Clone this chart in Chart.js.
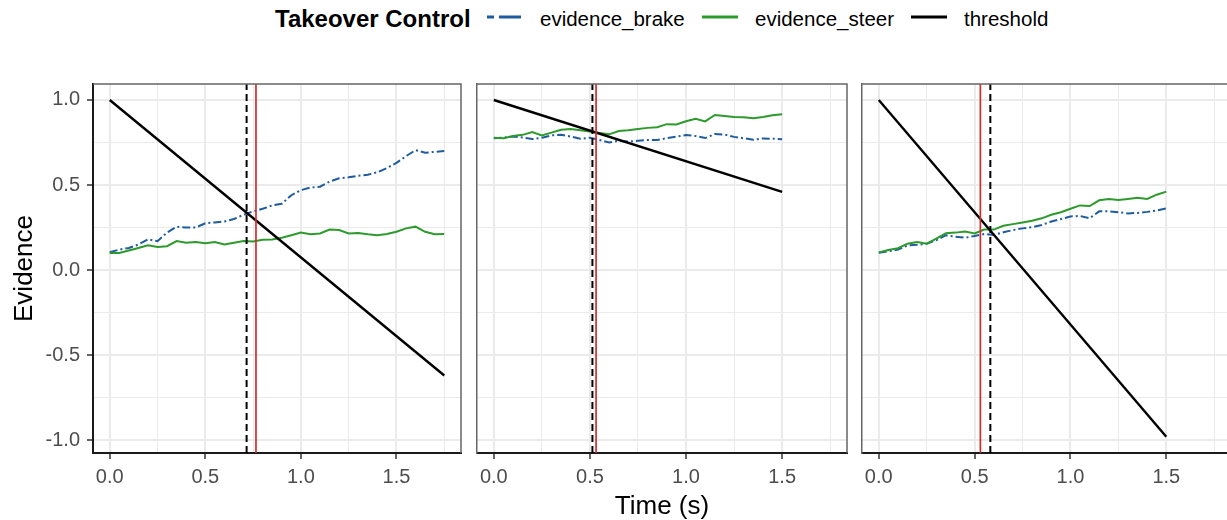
<!DOCTYPE html>
<html>
<head>
<meta charset="utf-8">
<script src="https://cdn.jsdelivr.net/npm/chart.js@4.4.1/dist/chart.umd.min.js"></script>
<style>
html,body{margin:0;padding:0;background:#fff;width:1227px;height:520px;overflow:hidden;font-family:'Liberation Sans',Arial,sans-serif;}
.cv{position:absolute;left:0;top:0;}
#legend{position:absolute;left:0;top:0;width:1227px;height:40px;}
.lt{position:absolute;white-space:nowrap;color:#000;line-height:30px;top:4px;font-size:20.5px;}
.lt.title{font-weight:bold;font-size:24px;}
.key{position:absolute;top:8px;}
</style>
</head>
<body>
<div id="legend"></div>
<canvas id="c1" class="cv" width="1240" height="520"></canvas>
<canvas id="c2" class="cv" width="1240" height="520"></canvas>
<canvas id="c3" class="cv" width="1240" height="520"></canvas>
<script>
// ---------------- DATA ----------------
const legendTitle = 'Takeover Control';
const seriesNames = ['evidence_brake', 'evidence_steer', 'threshold'];

const xTickValues = [0, 0.5, 1.0, 1.5];
const xTickLabels = ['0.0', '0.5', '1.0', '1.5'];
const xMinorValues = [0.25, 0.75, 1.25, 1.75];
const yTickValues = [-1.0, -0.5, 0.0, 0.5, 1.0];
const yTickLabels = ['-1.0', '-0.5', '0.0', '0.5', '1.0'];
const yMinorValues = [-0.75, -0.25, 0.25, 0.75];

// Panel 1
const time1 = [0.00,0.05,0.10,0.15,0.20,0.25,0.30,0.35,0.40,0.45,0.50,0.55,0.60,0.65,0.70,0.75,0.80,0.85,0.90,0.95,1.00,1.05,1.10,1.15,1.20,1.25,1.30,1.35,1.40,1.45,1.50,1.55,1.60,1.65,1.70,1.75];
const brake1 = [0.105,0.12,0.13,0.15,0.18,0.17,0.22,0.255,0.25,0.25,0.275,0.28,0.285,0.30,0.325,0.345,0.36,0.38,0.39,0.44,0.47,0.485,0.49,0.52,0.54,0.545,0.555,0.56,0.575,0.60,0.63,0.67,0.705,0.69,0.695,0.70];
const steer1 = [0.10,0.10,0.115,0.13,0.145,0.135,0.14,0.17,0.16,0.165,0.158,0.165,0.15,0.16,0.17,0.168,0.178,0.18,0.19,0.205,0.22,0.21,0.215,0.238,0.235,0.215,0.218,0.21,0.205,0.212,0.225,0.245,0.255,0.225,0.21,0.212];
const threshTime1 = [0.0, 1.75];
const thresh1 = [1.0, -0.62];
const onset1 = 0.716;     // dashed black line
const takeover1 = 0.765;  // red line

// Panel 2
const time2 = [0.00,0.05,0.10,0.15,0.20,0.25,0.30,0.35,0.40,0.45,0.50,0.55,0.60,0.65,0.70,0.75,0.80,0.85,0.90,0.95,1.00,1.05,1.10,1.15,1.20,1.25,1.30,1.35,1.40,1.45,1.50];
const brake2 = [0.775,0.778,0.785,0.78,0.77,0.778,0.792,0.795,0.785,0.772,0.778,0.765,0.75,0.76,0.756,0.76,0.765,0.765,0.775,0.785,0.794,0.788,0.776,0.80,0.797,0.783,0.775,0.766,0.774,0.772,0.769];
const steer2 = [0.778,0.775,0.788,0.795,0.812,0.792,0.808,0.825,0.83,0.822,0.815,0.806,0.798,0.818,0.822,0.83,0.836,0.84,0.858,0.856,0.875,0.89,0.874,0.912,0.906,0.90,0.898,0.893,0.90,0.91,0.916];
const threshTime2 = [0.0, 1.5];
const thresh2 = [1.0, 0.46];
const onset2 = 0.513;
const takeover2 = 0.532;

// Panel 3
const time3 = [0.00,0.05,0.10,0.15,0.20,0.25,0.30,0.35,0.40,0.45,0.50,0.55,0.60,0.65,0.70,0.75,0.80,0.85,0.90,0.95,1.00,1.05,1.10,1.15,1.20,1.25,1.30,1.35,1.40,1.45,1.50];
const brake3 = [0.102,0.11,0.12,0.145,0.148,0.155,0.175,0.205,0.196,0.19,0.20,0.212,0.206,0.222,0.235,0.245,0.252,0.265,0.285,0.30,0.315,0.318,0.305,0.345,0.345,0.34,0.333,0.336,0.342,0.35,0.363];
const steer3 = [0.104,0.118,0.128,0.155,0.165,0.155,0.185,0.216,0.22,0.226,0.215,0.238,0.238,0.26,0.27,0.28,0.29,0.304,0.325,0.34,0.36,0.38,0.376,0.41,0.418,0.412,0.418,0.425,0.418,0.443,0.461];
const threshTime3 = [0.0, 1.5];
const thresh3 = [1.0, -0.98];
const onset3 = 0.582;
const takeover3 = 0.530;

// ---------------- STYLE ----------------
const FONT = "'Liberation Sans', Arial, sans-serif";
const BLUE = '#1f5c9e';
const GREEN = '#2e9a2e';
const RED = '#d42c2c';
const BLACK = '#000000';
const X_MIN = -0.0875, X_MAX = 1.8375;
const Y_MIN = -1.076, Y_MAX = 1.094;
const CANVAS_W = 1240;
Chart.defaults.font.family = FONT;

// ---------------- LEGEND ----------------
(function buildLegend() {
  const lg = document.getElementById('legend');
  const t = document.createElement('div');
  t.className = 'lt title'; t.style.left = '275px'; t.textContent = legendTitle;
  lg.appendChild(t);
  const items = [
    {name: seriesNames[0], color: BLUE, keyLeft: 487, textLeft: 540, dash: true},
    {name: seriesNames[1], color: GREEN, keyLeft: 702, textLeft: 755},
    {name: seriesNames[2], color: BLACK, keyLeft: 911, textLeft: 964}
  ];
  items.forEach(it => {
    const svgNS = 'http://www.w3.org/2000/svg';
    const svg = document.createElementNS(svgNS, 'svg');
    svg.setAttribute('width', '36'); svg.setAttribute('height', '18');
    svg.setAttribute('class', 'key'); svg.style.left = it.keyLeft + 'px';
    const mk = (x1, x2) => {
      const l = document.createElementNS(svgNS, 'line');
      l.setAttribute('x1', x1); l.setAttribute('x2', x2);
      l.setAttribute('y1', 9); l.setAttribute('y2', 9);
      l.setAttribute('stroke', it.color); l.setAttribute('stroke-width', 3);
      svg.appendChild(l);
    };
    if (it.dash) { mk(0, 7); mk(12, 34); } else { mk(0, 36); }
    lg.appendChild(svg);
    const tx = document.createElement('div');
    tx.className = 'lt'; tx.style.left = it.textLeft + 'px'; tx.textContent = it.name;
    lg.appendChild(tx);
  });
})();

// ---------------- CHARTS ----------------
const framePlugin = {
  id: 'frame',
  afterDatasetsDraw(chart) {
    const a = chart.chartArea, c = chart.ctx;
    c.save();
    c.strokeStyle = '#666666';
    c.lineWidth = 1.5;
    c.beginPath();
    c.moveTo(a.left, a.top); c.lineTo(a.right, a.top); c.lineTo(a.right, a.bottom);
    c.stroke();
    c.restore();
  }
};

function isIn(arr, v) { return arr.some(a => Math.abs(a - v) < 1e-9); }

function makePanel(id, p) {
  const pts = (xs, ys) => xs.map((x, i) => ({x: x, y: ys[i]}));
  const vline = (x) => [{x: x, y: Y_MIN}, {x: x, y: Y_MAX}];
  const datasets = [
    {label: 'takeover', data: vline(p.takeover), borderColor: RED, borderWidth: 1.7},
    {label: 'onset', data: vline(p.onset), borderColor: BLACK, borderWidth: 2, borderDash: [7, 4]},
    {label: seriesNames[2], data: pts(p.threshTime, p.thresh), borderColor: BLACK, borderWidth: 2.4},
    {label: seriesNames[1], data: pts(p.time, p.steer), borderColor: GREEN, borderWidth: 2},
    {label: seriesNames[0], data: pts(p.time, p.brake), borderColor: BLUE, borderWidth: 2, borderDash: [8, 3, 2, 3]}
  ].map(d => Object.assign({pointRadius: 0, fill: false, tension: 0, borderCapStyle: 'butt'}, d));

  const xAll = xTickValues.concat(xMinorValues).sort((a, b) => a - b);
  const yAll = yTickValues.concat(yMinorValues).sort((a, b) => a - b);

  return new Chart(document.getElementById(id), {
    type: 'line',
    data: {datasets: datasets},
    options: {
      responsive: false, animation: false, events: [],
      layout: {padding: {left: p.padLeft, right: CANVAS_W - p.right, top: 84, bottom: 0}},
      plugins: {legend: {display: false}, tooltip: {enabled: false}},
      scales: {
        x: {
          type: 'linear', min: X_MIN, max: X_MAX,
          afterBuildTicks: s => { s.ticks = xAll.map(v => ({value: v})); },
          afterFit: s => { s.height = 67; },
          ticks: {
            autoSkip: false, maxRotation: 0, color: '#4d4d4d', padding: 6,
            font: {size: 20, family: FONT},
            callback: v => { const i = xTickValues.findIndex(t => Math.abs(t - v) < 1e-9); return i >= 0 ? xTickLabels[i] : ''; }
          },
          grid: {
            color: '#ebebeb',
            lineWidth: ctx => (ctx.tick && isIn(xTickValues, ctx.tick.value)) ? 2 : 1,
            tickLength: 6,
            tickColor: ctx => (ctx.tick && isIn(xTickValues, ctx.tick.value)) ? '#333333' : 'rgba(0,0,0,0)',
            tickWidth: 1.5
          },
          border: {display: true, color: '#1a1a1a', width: 2},
          title: {display: !!p.xTitle, text: 'Time (s)', color: '#000', font: {size: 26, family: FONT, lineHeight: 1.0}, padding: {top: 0, bottom: 0}}
        },
        y: {
          type: 'linear', min: Y_MIN, max: Y_MAX,
          afterBuildTicks: s => { s.ticks = yAll.map(v => ({value: v})); },
          afterFit: s => { s.width = p.yWidth; },
          ticks: {
            display: !!p.yLabels, autoSkip: false, color: '#4d4d4d', padding: 7,
            font: {size: 20, family: FONT},
            callback: v => { const i = yTickValues.findIndex(t => Math.abs(t - v) < 1e-9); return i >= 0 ? yTickLabels[i] : ''; }
          },
          grid: {
            color: '#ebebeb',
            drawTicks: !!p.yLabels,
            lineWidth: ctx => (ctx.tick && isIn(yTickValues, ctx.tick.value)) ? 2 : 1,
            tickLength: 6,
            tickColor: ctx => (ctx.tick && isIn(yTickValues, ctx.tick.value)) ? '#333333' : 'rgba(0,0,0,0)',
            tickWidth: 1.5
          },
          border: {display: true, color: p.yLabels ? '#1a1a1a' : '#666666', width: p.yLabels ? 2 : 1.5},
          title: {display: !!p.yLabels, text: 'Evidence', color: '#000', font: {size: 26, family: FONT, lineHeight: 1.2}, padding: {top: 9, bottom: 0}}
        }
      }
    },
    plugins: [framePlugin]
  });
}

makePanel('c1', {time: time1, brake: brake1, steer: steer1, threshTime: threshTime1, thresh: thresh1, onset: onset1, takeover: takeover1,
  padLeft: 0, yWidth: 93, right: 461, yLabels: true});
makePanel('c2', {time: time2, brake: brake2, steer: steer2, threshTime: threshTime2, thresh: thresh2, onset: onset2, takeover: takeover2,
  padLeft: 477, yWidth: 0, right: 847, xTitle: true});
makePanel('c3', {time: time3, brake: brake3, steer: steer3, threshTime: threshTime3, thresh: thresh3, onset: onset3, takeover: takeover3,
  padLeft: 862, yWidth: 0, right: 1231});
</script>
</body>
</html>
